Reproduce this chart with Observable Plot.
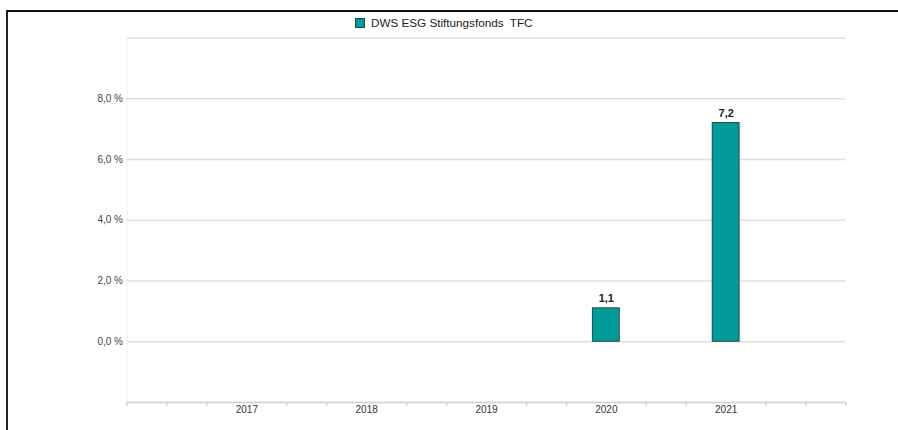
<!DOCTYPE html>
<html>
<head>
<meta charset="utf-8">
<script src="https://cdn.jsdelivr.net/npm/d3@7"></script>
<script src="https://cdn.jsdelivr.net/npm/@observablehq/plot@0.6"></script>
<style>
  html, body { margin: 0; padding: 0; background: #fff; }
  #wrap { position: relative; width: 898px; height: 430px; overflow: hidden; font-family: "Liberation Sans", Arial, sans-serif; }
  #frame { position: absolute; left: 6px; top: 10px; width: 1000px; height: 1000px; border-top: 2px solid #111; border-left: 2px solid #222; box-sizing: border-box; pointer-events: none; }
  #legend { height: 30px; position: relative; }
  #legend .item { position: absolute; left: 355px; top: 16px; display: flex; align-items: center; font-size: 11.7px; color: #222; white-space: pre; }
  #legend .sw { width: 8px; height: 8px; background: #009a9a; border: 1px solid #1f4c4c; margin-right: 6px; }
  #chart svg { display: block; }
</style>
</head>
<body>
<div id="wrap">
  <div id="frame"></div>
  <div id="legend"></div>
  <div id="chart"></div>
</div>
<script>
// ---- data ----
const seriesName = "DWS ESG Stiftungsfonds  TFC";
const years = [2017, 2018, 2019, 2020, 2021];
const values = [null, null, null, 1.1, 7.2];
const yLabelTicks = [0, 2, 4, 6, 8];
const yGridTicks = [0, 2, 4, 6, 8, 10];
const yDomain = [-2, 10];
const xDomain = [2016, 2022];

const barColor = "#009a9a";
const barStroke = "#1f4c4c";

const data = years.map((year, i) => ({year, value: values[i]})).filter(d => d.value != null);

// minor ticks every third of a year, skipping labelled years
const minorTicks = d3.range(0, 19).map(k => xDomain[0] + k / 3)
  .filter(t => !years.some(y => Math.abs(y - t) < 1e-6));

const fmtPct = d => d.toFixed(1).replace(".", ",") + " %";
const fmtVal = d => d.toFixed(1).replace(".", ",");

// legend
const legend = document.getElementById("legend");
const item = document.createElement("div");
item.className = "item";
item.innerHTML = '<span class="sw"></span><span></span>';
item.lastChild.textContent = seriesName;
legend.appendChild(item);

const chart = Plot.plot({
  width: 898,
  height: 400,
  marginTop: 7.5,
  marginBottom: 28,
  marginLeft: 126.5,
  marginRight: 52.5,
  style: {fontFamily: "'Liberation Sans', Arial, sans-serif", fontSize: "10px", color: "#333", background: "transparent"},
  x: {domain: xDomain, label: null},
  y: {domain: yDomain, label: null},
  marks: [
    Plot.ruleX([xDomain[0]], {stroke: "#f1efeb", strokeWidth: 1}),
    Plot.gridY(yGridTicks, {stroke: "#e2dfd9", strokeOpacity: 1, strokeWidth: 1.5}),
    Plot.ruleY([yDomain[0]], {stroke: "#dbd7cf", strokeWidth: 2}),
    Plot.axisX({ticks: minorTicks, tickFormat: () => "", tickSize: 4, stroke: "#d6d2ca", strokeWidth: 1.5, label: null}),
    Plot.axisX({ticks: years, tickFormat: d => String(d), tickSize: 0, tickPadding: 3, fill: "#333", fontSize: 10, label: null}),
    Plot.axisY({ticks: yLabelTicks, tickFormat: fmtPct, tickSize: 0, tickPadding: 4, fill: "#444", fontSize: 10, label: null}),
    Plot.rectY(data, {
      x1: d => d.year - 0.5,
      x2: d => d.year + 0.5,
      y: "value",
      insetLeft: 46.5,
      insetRight: 46.5,
      fill: barColor,
      stroke: barStroke,
      strokeWidth: 1
    }),
    Plot.text(data, {
      x: "year",
      y: "value",
      text: d => fmtVal(d.value),
      dy: -10,
      fill: "#222",
      fontSize: 11,
      fontWeight: 600
    })
  ]
});
document.getElementById("chart").appendChild(chart);
</script>
</body>
</html>
